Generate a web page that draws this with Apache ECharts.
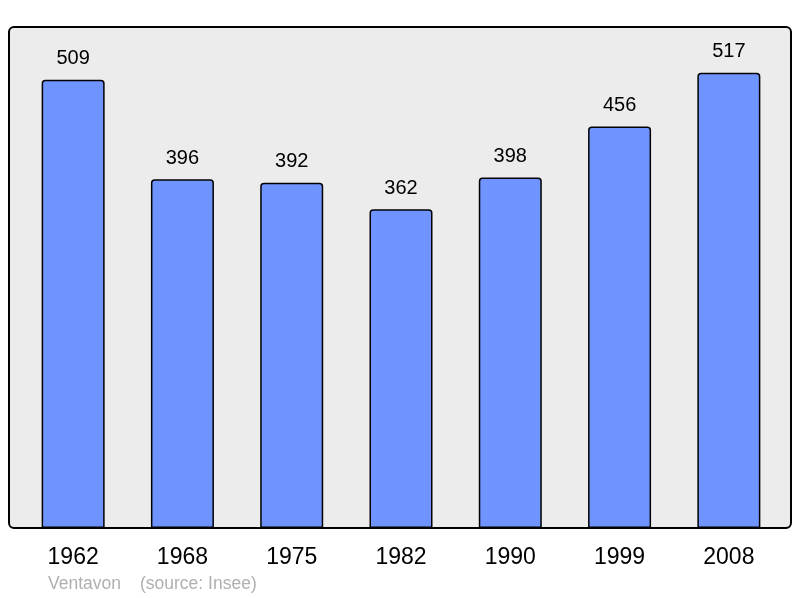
<!DOCTYPE html>
<html>
<head>
<meta charset="utf-8">
<script src="https://cdn.jsdelivr.net/npm/echarts@6/dist/echarts.min.js"></script>
<style>html,body{margin:0;padding:0;background:#fff}#c{width:800px;height:598px}</style>
</head>
<body>
<div id="c"></div>
<script>
var years = ['1962', '1968', '1975', '1982', '1990', '1999', '2008'];
var population = [509, 396, 392, 362, 398, 456, 517];
var place = 'Ventavon';
var source = '(source: Insee)';

var chart = echarts.init(document.getElementById('c'), null, {renderer: 'canvas'});
chart.setOption({
  animation: false,
  backgroundColor: '#fff',
  textStyle: {fontFamily: 'Liberation Sans, Arial, sans-serif'},
  graphic: [
    {type: 'rect', z: -10, shape: {x: 9, y: 27, width: 782, height: 501, r: 5},
     style: {fill: '#ececec', stroke: '#000', lineWidth: 2}},
    {type: 'text', left: 48, top: 575, style: {text: place, fill: '#b0b0b0', font: '17.5px "Liberation Sans", Arial, sans-serif'}},
    {type: 'text', left: 140, top: 575, style: {text: source, fill: '#b0b0b0', font: '17.5px "Liberation Sans", Arial, sans-serif'}}
  ],
  grid: {left: 18.5, width: 765, top: 27, height: 501},
  xAxis: {
    type: 'category', data: years,
    axisLine: {show: false}, axisTick: {show: false},
    axisLabel: {fontSize: 23, color: '#000', margin: 18, fontFamily: 'Liberation Sans, Arial, sans-serif'}
  },
  yAxis: {type: 'value', min: 0, max: 569, show: false, splitLine: {show: false}},
  series: [{
    type: 'bar', data: population, barWidth: 63,
    itemStyle: {color: '#7094ff', borderColor: '#000', borderWidth: 1.5, borderRadius: [3, 3, 0, 0]},
    label: {show: true, position: 'top', distance: 11, fontSize: 20, color: '#000', fontFamily: 'Liberation Sans, Arial, sans-serif'}
  }]
});
</script>
</body>
</html>
